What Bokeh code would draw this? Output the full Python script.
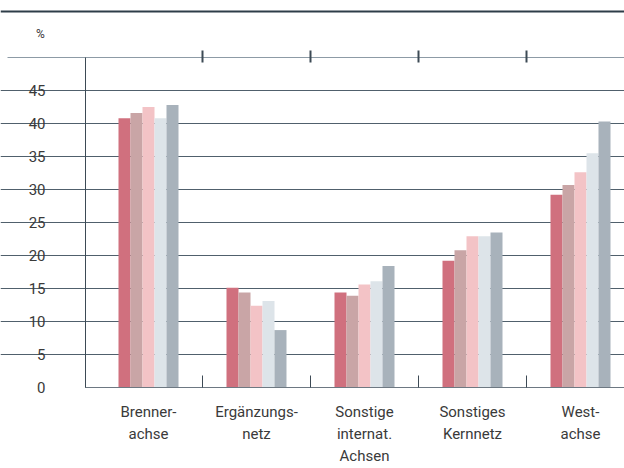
from bokeh.plotting import figure
from bokeh.models import (ColumnDataSource, LinearAxis, FixedTicker, Range1d, Span, Label)
from bokeh.transform import dodge
from bokeh.embed import file_html
from bokeh.resources import INLINE

# ---- data ----
categories = ["Brenner-\nachse", "Ergänzungs-\nnetz", "Sonstige\ninternat.\nAchsen",
              "Sonstiges\nKernnetz", "West-\nachse"]
series_names = ["Reihe 1", "Reihe 2", "Reihe 3", "Reihe 4", "Reihe 5"]
reihe1 = [40.8, 15.1, 14.4, 19.2, 29.2]
reihe2 = [41.6, 14.4, 13.9, 20.8, 30.7]
reihe3 = [42.5, 12.4, 15.6, 22.9, 32.6]
reihe4 = [40.8, 13.1, 16.1, 22.9, 35.5]
reihe5 = [42.8, 8.7, 18.4, 23.5, 40.3]
y_ticks = [0, 5, 10, 15, 20, 25, 30, 35, 40, 45]

colors = ["#d0707e", "#c9a5a6", "#f3c3c6", "#dde4e9", "#a8b2bb"]

W, H = 624, 468
PX_PER_CAT = 108.0
CAT0_PX = 148.0
PX_PER_Y = 6.6
Y0_PX = 387.0

def dx(px):
    return (px - CAT0_PX) / PX_PER_CAT

def dy(py):
    return (Y0_PX - py) / PX_PER_Y

x_idx = list(range(len(categories)))
source = ColumnDataSource(dict(x=x_idx, r1=reihe1, r2=reihe2, r3=reihe3, r4=reihe4, r5=reihe5))

p = figure(width=W, height=H, output_backend="svg", toolbar_location=None,
           x_range=Range1d(dx(0), dx(W)), y_range=Range1d(dy(H), dy(0)),
           x_axis_location=None, y_axis_location=None,
           min_border=0, min_border_left=0, min_border_right=0,
           min_border_top=0, min_border_bottom=0)
p.outline_line_color = None
p.background_fill_color = "white"
p.border_fill_color = "white"
p.xgrid.visible = False

# horizontal grid lines
p.ygrid.ticker = FixedTicker(ticks=y_ticks[1:])
p.ygrid.bounds = (dx(73), dx(W))
p.ygrid.grid_line_color = "#50606c"
p.ygrid.grid_line_width = 1

# bars
bw = 12.0 / PX_PER_CAT
cols = ["r1", "r2", "r3", "r4", "r5"]
for i, (c, col) in enumerate(zip(cols, colors)):
    p.vbar(x=dodge("x", (i - 2) * bw, range=p.x_range), top=c, bottom=0, width=bw,
           source=source, fill_color=col, line_color=None, legend_label=series_names[i])
p.legend.visible = False

font = "Roboto"

# y axis
yax = LinearAxis(fixed_location=dx(85), ticker=FixedTicker(ticks=y_ticks), bounds=(0, dy(57)))
yax.axis_line_color = "#3d4a55"
yax.major_tick_out = 0
yax.major_tick_in = 0
yax.minor_tick_line_color = None
yax.major_label_standoff = 40
yax.major_label_text_font = font
yax.major_label_text_font_size = "15px"
yax.major_label_text_color = "#3a3a3a"
p.add_layout(yax, "left")

# bottom axis line with separator ticks
sep_ticks = [dx(85), 0.5, 1.5, 2.5, 3.5]
xax = LinearAxis(fixed_location=0, ticker=FixedTicker(ticks=sep_ticks), bounds=(dx(85), dx(W)))
xax.axis_line_color = "#6d7882"
xax.major_tick_line_color = "#3d4a55"
xax.major_tick_in = 12
xax.major_tick_out = 0
xax.minor_tick_line_color = None
xax.major_label_text_font_size = "0px"
xax.major_label_overrides = {t: "" for t in sep_ticks}
p.add_layout(xax, "below")

# category labels
lab = LinearAxis(fixed_location=0, ticker=FixedTicker(ticks=x_idx))
lab.axis_line_color = None
lab.major_tick_line_color = None
lab.minor_tick_line_color = None
lab.major_label_standoff = 9
lab.major_label_overrides = {i: t for i, t in enumerate(categories)}
lab.major_label_text_font = font
lab.major_label_text_font_size = "15px"
lab.major_label_text_color = "#3a3a3a"
lab.major_label_text_line_height = 1.24
p.add_layout(lab, "below")

# top axis line with ticks
top_ticks = [0.5, 1.5, 2.5, 3.5]
tax = LinearAxis(fixed_location=dy(57), ticker=FixedTicker(ticks=top_ticks),
                 bounds=(dx(7), dx(W)))
tax.axis_line_color = "#8d9ba6"
tax.major_tick_line_color = "#3d4a55"
tax.major_tick_line_width = 2
tax.major_tick_in = 5
tax.major_tick_out = 7
tax.minor_tick_line_color = None
tax.major_label_text_font_size = "0px"
tax.major_label_overrides = {t: "" for t in top_ticks}
p.add_layout(tax, "above")

# top rule and unit label
p.add_layout(Span(location=dy(11), dimension="width", line_color="#2e3d48", line_width=2))
p.add_layout(Label(x=dx(40), y=dy(33), text="%", text_font=font, text_font_size="12px",
                   text_color="#3a3a3a", text_align="center", text_baseline="middle"))

open("out.html", "w").write(file_html(p, INLINE))
